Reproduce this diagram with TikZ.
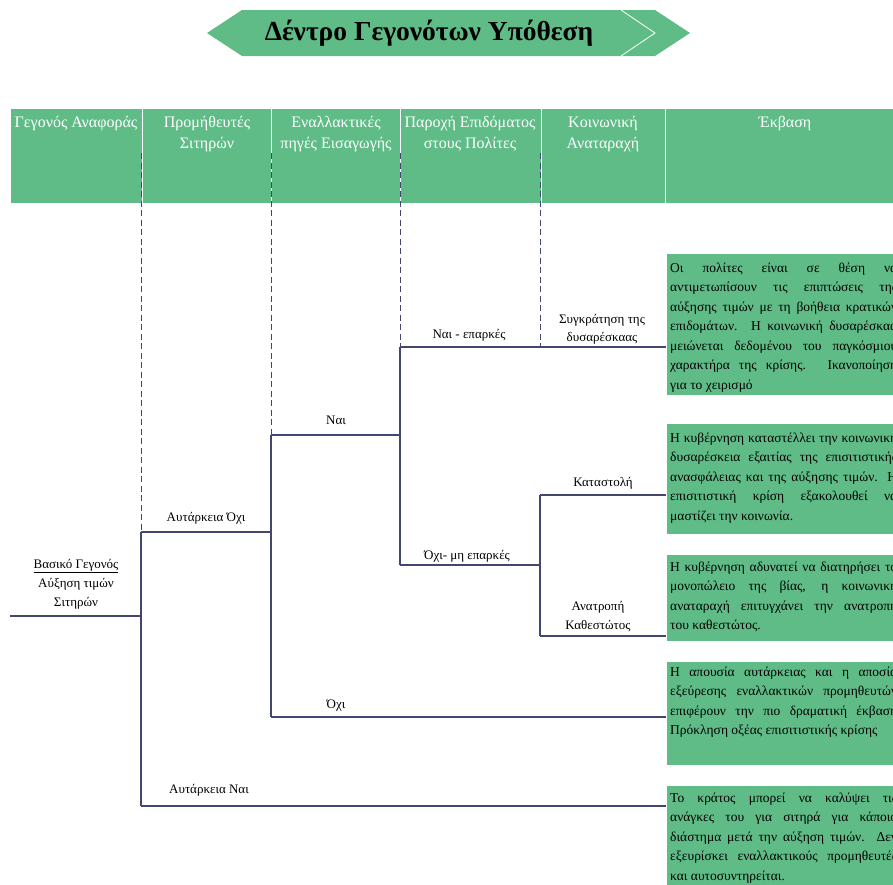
\documentclass[tikz,border=0pt]{standalone}
\usepackage{fontspec}
\setmainfont{Liberation Serif}
\definecolor{hdrgreen}{RGB}{96,188,135}
\definecolor{linecol}{RGB}{66,70,112}
\newlength{\jlw}
\setlength{\jlw}{227pt}
\newcommand{\jline}[1]{\makebox[\jlw][s]{#1}}
\begin{document}
\begin{tikzpicture}[x=1pt,y=-1pt,
  treeline/.style={draw=linecol, line width=1.2pt},
  dashline/.style={draw=linecol, line width=1pt, dash pattern=on 6pt off 3.5pt},
  hdrcell/.style={fill=hdrgreen, draw=white, line width=1pt},
  hdrtext/.style={font=\fontsize{16}{21}\selectfont, text=white, inner sep=0pt, anchor=base},
  lbl/.style={font=\fontsize{13}{19}\selectfont, inner sep=0pt, anchor=base},
  outbox/.style={fill=hdrgreen, draw=white, line width=0.8pt},
  outtext/.style={font=\fontsize{13.5}{19.5}\selectfont, inner sep=0pt, anchor=base west},
]
\useasboundingbox (0,0) rectangle (893,884);
\clip (0,0) rectangle (893,884);

% title banner
\fill[hdrgreen] (207,33) -- (242,10) -- (655,10) -- (690,33) -- (655,56) -- (242,56) -- cycle;
\draw[white, line width=0.8pt] (621,10) -- (655,33) -- (621,56);
\node[font=\fontsize{27.5}{32}\selectfont\bfseries, inner sep=0pt] (title) at (429,33) {Δέντρο Γεγονότων Υπόθεση};

% header cells
\path[hdrcell] (10,108) rectangle (142,203);
\path[hdrcell] (142,108) rectangle (271,203);
\path[hdrcell] (271,108) rectangle (400,203);
\path[hdrcell] (400,108) rectangle (541,203);
\path[hdrcell] (541,108) rectangle (665,203);
\path[hdrcell] (665,108) rectangle (910,203);

\node[hdrtext] (h1) at (76,127) {Γεγονός Αναφοράς};
\node[hdrtext] (h2a) at (207,127) {Προμήθευτές};
\node[hdrtext] (h2b) at (207,148) {Σιτηρών};
\node[hdrtext] (h3a) at (336,127) {Εναλλακτικές};
\node[hdrtext] (h3b) at (336,148) {πηγές Εισαγωγής};
\node[hdrtext] (h4a) at (470,127) {Παροχή Επιδόματος};
\node[hdrtext] (h4b) at (470,148) {στους Πολίτες};
\node[hdrtext] (h5a) at (603,127) {Κοινωνική};
\node[hdrtext] (h5b) at (603,148) {Αναταραχή};
\node[hdrtext] (h6) at (785,127) {Έκβαση};

% tree coordinates
\coordinate (r0) at (10,616);
\coordinate (r1) at (141,616);
\coordinate (a0) at (141,532);
\coordinate (a1) at (271,532);
\coordinate (s0) at (141,806);
\coordinate (s1) at (666,806);
\coordinate (n0) at (271,435);
\coordinate (n1) at (400,435);
\coordinate (o0) at (271,717);
\coordinate (o1) at (666,717);
\coordinate (e0) at (400,347);
\coordinate (e1) at (666,347);
\coordinate (m0) at (400,565);
\coordinate (m1) at (540,565);
\coordinate (k0) at (540,495);
\coordinate (k1) at (666,495);
\coordinate (t0) at (540,636);
\coordinate (t1) at (666,636);
\coordinate (d1) at (141,153);
\coordinate (d2) at (271,153);
\coordinate (d3) at (400,153);
\coordinate (d4) at (540,153);
\coordinate (d4e) at (540,347);

% dashed guides
\draw[dashline] (d1) -- (a0);
\draw[dashline] (d2) -- (n0);
\draw[dashline] (d3) -- (e0);
\draw[dashline] (d4) -- (d4e);

% tree lines
\draw[treeline] (r0) -- (r1);
\draw[treeline] (a0) -- (s0);
\draw[treeline] (a0) -- (a1);
\draw[treeline] (s0) -- (s1);
\draw[treeline] (n0) -- (o0);
\draw[treeline] (n0) -- (n1);
\draw[treeline] (o0) -- (o1);
\draw[treeline] (e0) -- (m0);
\draw[treeline] (e0) -- (e1);
\draw[treeline] (m0) -- (m1);
\draw[treeline] (k0) -- (t0);
\draw[treeline] (k0) -- (k1);
\draw[treeline] (t0) -- (t1);

% labels
\node[lbl] (root1) at (76,568) {\underline{Βασικό Γεγονός}};
\node[lbl] (root2) at (76,587) {Αύξηση τιμών};
\node[lbl] (root3) at (76,606) {Σιτηρών};
\node[lbl] (l1) at (206,521) {Αυτάρκεια Όχι};
\node[lbl] (l2) at (209,793) {Αυτάρκεια Ναι};
\node[lbl] (l3) at (336,424) {Ναι};
\node[lbl] (l4) at (336,708) {Όχι};
\node[lbl] (l5) at (469,338) {Ναι - επαρκές};
\node[lbl] (l6) at (467,559) {Όχι- μη επαρκές};
\node[lbl] (l7a) at (602,323) {Συγκράτηση της};
\node[lbl] (l7b) at (602,341) {δυσαρέσκαας};
\node[lbl] (l8) at (603,486) {Καταστολή};
\node[lbl] (l9a) at (598,610) {Ανατροπή};
\node[lbl] (l9b) at (598,629) {Καθεστώτος};

% outcome boxes
\path[outbox] (666,253) rectangle (910,395);
\path[outbox] (666,423) rectangle (910,534);
\path[outbox] (666,554) rectangle (910,641);
\path[outbox] (666,661) rectangle (910,765);
\path[outbox] (666,785) rectangle (910,890);

\node[outtext] (b1) at (670,272) {\parbox[t]{240pt}{%
\jline{Οι πολίτες είναι σε θέση να}\\
\jline{αντιμετωπίσουν τις επιπτώσεις της}\\
\jline{αύξησης τιμών με τη βοήθεια κρατικών}\\
\jline{επιδομάτων. Η κοινωνική δυσαρέσκαα}\\
\jline{μειώνεται δεδομένου του παγκόσμιου}\\
\jline{χαρακτήρα της κρίσης. Ικανοποίηση}\\
για το χειρισμό}};

\node[outtext] (b2) at (670,442) {\parbox[t]{240pt}{%
\jline{Η κυβέρνηση καταστέλλει την κοινωνική}\\
\jline{δυσαρέσκεια εξαιτίας της επισιτιστικής}\\
\jline{ανασφάλειας και της αύξησης τιμών. Η}\\
\jline{επισιτιστική κρίση εξακολουθεί να}\\
μαστίζει την κοινωνία.}};

\node[outtext] (b3) at (670,571) {\parbox[t]{240pt}{%
\jline{Η κυβέρνηση αδυνατεί να διατηρήσει το}\\
\jline{μονοπώλειο της βίας, η κοινωνική}\\
\jline{αναταραχή επιτυγχάνει την ανατροπή}\\
του καθεστώτος.}};

\node[outtext] (b4) at (670,676) {\parbox[t]{240pt}{%
\jline{Η απουσία αυτάρκειας και η αποσία}\\
\jline{εξεύρεσης εναλλακτικών προμηθευτών}\\
\jline{επιφέρουν την πιο δραματική έκβαση}\\
Πρόκληση οξέας επισιτιστικής κρίσης}};

\node[outtext] (b5) at (670,802) {\parbox[t]{240pt}{%
\jline{Το κράτος μπορεί να καλύψει τις}\\
\jline{ανάγκες του για σιτηρά για κάποιο}\\
\jline{διάστημα μετά την αύξηση τιμών. Δεν}\\
\jline{εξευρίσκει εναλλακτικούς προμηθευτές}\\
και αυτοσυντηρείται.}};
\end{tikzpicture}
\end{document}
